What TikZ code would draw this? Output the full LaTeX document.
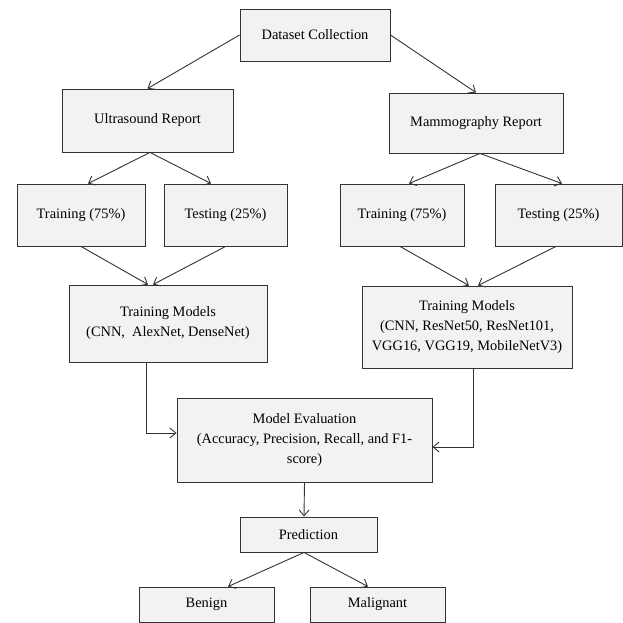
\documentclass[tikz,border=0pt]{standalone}
\usepackage{fontspec}
\setmainfont{Liberation Serif}
\usetikzlibrary{arrows.meta}
\definecolor{boxfill}{HTML}{F2F2F2}
\definecolor{boxline}{HTML}{333333}
\tikzset{
  box/.style={draw=boxline, fill=boxfill, line width=0.9pt, inner sep=0pt,
    align=center, font=\fontsize{14.4}{20}\selectfont, text=black},
  conn/.style={draw=boxline, line width=0.9pt, -{Straight Barb[length=6pt,width=10pt]}}
}
\begin{document}
\begin{tikzpicture}[x=1pt,y=-1pt]
\useasboundingbox (0,0) rectangle (623,623);
\node[box, minimum width=150, minimum height=52] (ds) at (315,35) {Dataset Collection};
\node[box, minimum width=171, minimum height=63] (us) at (147.5,120.5) {Ultrasound Report};
\node[box, minimum width=174, minimum height=60] (mg) at (476,123) {Mammography Report};
\node[box, minimum width=128, minimum height=62] (trL) at (81,215) {Training (75\%)};
\node[box, minimum width=123, minimum height=62] (teL) at (225.5,215) {Testing (25\%)};
\node[box, minimum width=124, minimum height=62] (trR) at (402,215) {\raisebox{-6pt}{Training (75\%)}};
\node[box, minimum width=127, minimum height=62] (teR) at (558.5,215) {\raisebox{-6pt}{Testing (25\%)}};
\node[box, minimum width=198, minimum height=77] (tmL) at (168,323.5) {Training Models\\(CNN,\ \ AlexNet, DenseNet)};
\node[box, minimum width=210, minimum height=82] (tmR) at (467,327) {Training Models\\(CNN, ResNet50, ResNet101,\\VGG16, VGG19, MobileNetV3)};
\node[box, minimum width=255, minimum height=84] (me) at (304.5,440) {Model Evaluation\\(Accuracy, Precision, Recall, and F1-\\score)};
\node[box, minimum width=137, minimum height=35] (pr) at (308.5,534.5) {Prediction};
\node[box, minimum width=135, minimum height=35] (be) at (206.5,604.5) {Benign};
\node[box, minimum width=135, minimum height=35] (ma) at (377.5,604.5) {Malignant};

\draw[conn] (ds.west) -- (us.north);
\draw[conn] (ds.east) -- (mg.north);
\draw[conn] ([xshift=2.5pt]us.south) -- ([xshift=7pt]trL.north);
\draw[conn] ([xshift=2.5pt]us.south) -- ([xshift=-14.5pt]teL.north);
\draw[conn] ([xshift=4pt]mg.south) -- ([xshift=7pt]trR.north);
\draw[conn] ([xshift=4pt]mg.south) -- ([xshift=3.5pt]teR.north);
\draw[conn] (trL.south) -- ([xshift=-20pt]tmL.north);
\draw[conn] (teL.south) -- ([xshift=-15pt]tmL.north);
\draw[conn] ([xshift=-2pt]trR.south) -- ([xshift=2pt]tmR.north);
\draw[conn] ([xshift=-2.5pt]teR.south) -- ([xshift=11pt]tmR.north);
\draw[conn] ([xshift=-22pt]tmL.south) |- ([yshift=7pt]me.west);
\draw[conn] ([xshift=6pt]tmR.south) |- ([yshift=-7pt]me.east);
\draw[conn] (me.south) -- ([xshift=-4.5pt]pr.north);
\draw[conn] ([xshift=-4.5pt]pr.south) -- ([xshift=21.5pt]be.north);
\draw[conn] ([xshift=-4.5pt]pr.south) -- ([xshift=-9.5pt]ma.north);
\end{tikzpicture}
\end{document}
